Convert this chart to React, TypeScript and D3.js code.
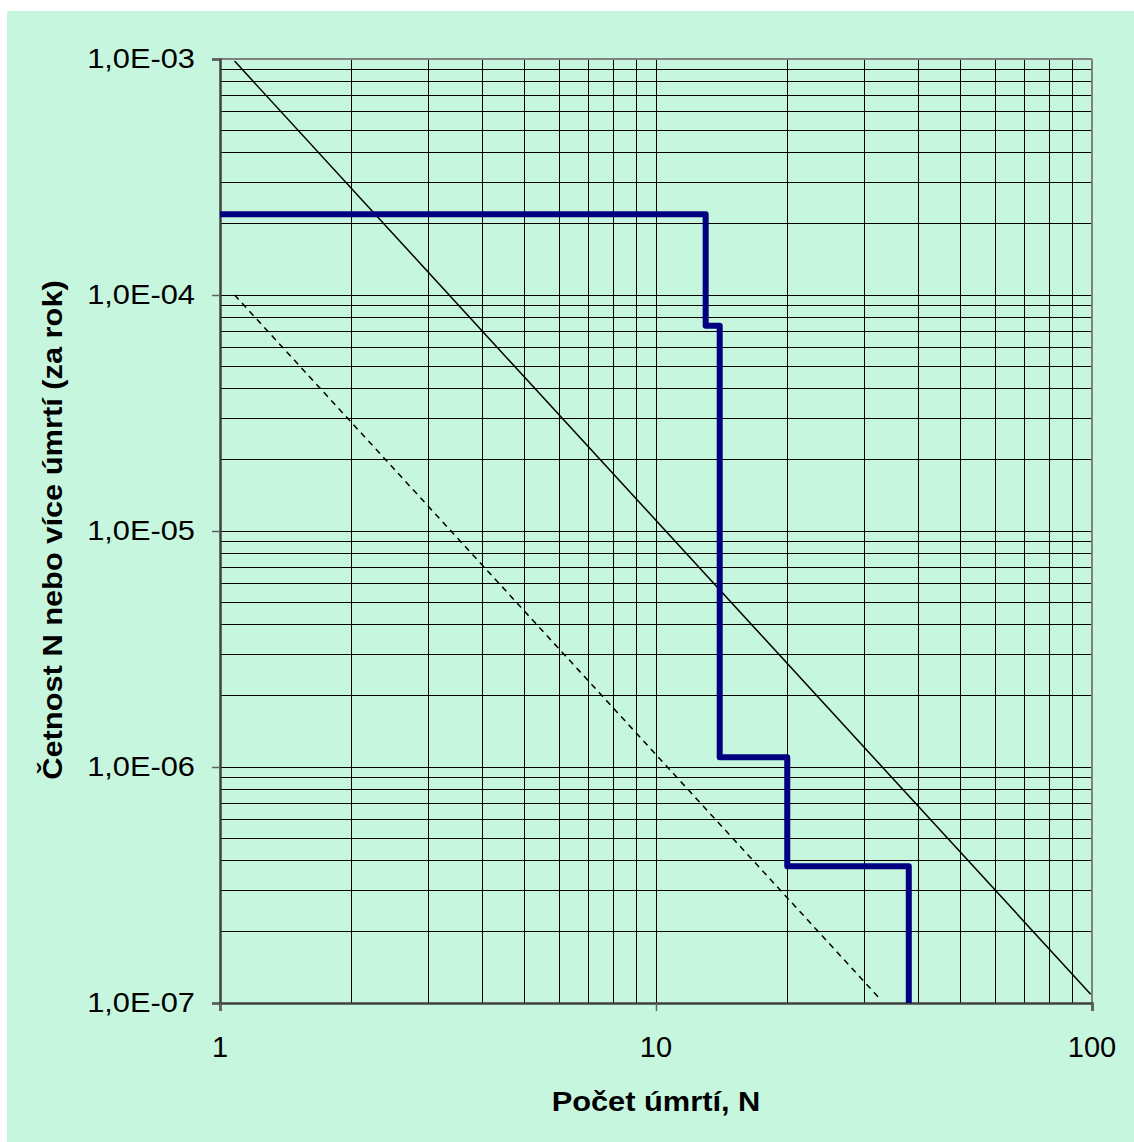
import React, { useRef, useEffect } from "react";
import * as d3 from "d3";

// step curve of the F-N diagram (N = number of deaths, F = frequency per year)
const stepN = [1, 13, 14, 20, 38];
const stepF = [2.2e-4, 7.4e-5, 1.1e-6, 3.8e-7, 1.0e-7];

// upper (solid) and lower (dashed) criterion lines
const solidN = [1.08, 99.3];
const solidF = [9.8e-4, 1.09e-7];
const dashedN = [1.08, 32.5];
const dashedF = [1.0e-4, 1.05e-7];

const xTicks = [1, 10, 100];
const xTickLabels = ["1", "10", "100"];
const yTicks = [1e-3, 1e-4, 1e-5, 1e-6, 1e-7];
const yTickLabels = ["1,0E-03", "1,0E-04", "1,0E-05", "1,0E-06", "1,0E-07"];

const xTitle = "Počet úmrtí, N";
const yTitle = "Četnost N nebo více úmrtí (za rok)";

const W = 1134;
const H = 1142;
const FONT = "'Liberation Sans', Arial, sans-serif";

const App = () => {
  const ref = useRef(null);

  useEffect(() => {
    const svg = d3.select(ref.current);
    svg.selectAll("*").remove();

    // plot area
    const left = 220, right = 1092, top = 59, bottom = 1003;

    const x = d3.scaleLog().domain([1, 100]).range([left, right]);
    const y = d3.scaleLog().domain([1e-7, 1e-3]).range([bottom, top]);

    // background
    svg.append("rect")
      .attr("x", 7).attr("y", 11)
      .attr("width", W - 7).attr("height", H - 11)
      .attr("fill", "#c7f6df");

    // minor + major gridlines
    const xGrid = [];
    for (let d = 1; d < 100; d *= 10) {
      for (let k = 1; k <= 9; k++) xGrid.push(d * k);
    }
    const yGrid = [];
    for (let d = 1e-7; d < 1e-3 * 0.99; d *= 10) {
      for (let k = 1; k <= 9; k++) yGrid.push(d * k);
    }

    const grid = svg.append("g").attr("stroke", "#000").attr("stroke-width", 1).attr("shape-rendering", "crispEdges");
    grid.selectAll(".vx")
      .data(xGrid.filter(v => v > 1 && v < 100))
      .join("line")
      .attr("x1", d => x(d)).attr("x2", d => x(d))
      .attr("y1", top).attr("y2", bottom);
    grid.selectAll(".hy")
      .data(yGrid.filter(v => v > 1e-7 * 1.01 && v < 1e-3 * 0.99))
      .join("line")
      .attr("y1", d => y(d)).attr("y2", d => y(d))
      .attr("x1", left).attr("x2", right);

    // plot border (top / right) and axes (left / bottom)
    svg.append("line").attr("x1", left).attr("x2", right).attr("y1", top).attr("y2", top)
      .attr("stroke", "#808080").attr("stroke-width", 2);
    svg.append("line").attr("x1", right).attr("x2", right).attr("y1", top).attr("y2", bottom)
      .attr("stroke", "#808080").attr("stroke-width", 2);

    const yAxis = d3.axisLeft(y).tickValues(yTicks).tickSize(8).tickFormat(() => "");
    const yg = svg.append("g").attr("transform", `translate(${left},0)`).call(yAxis);
    yg.select(".domain").attr("stroke", "#404040").attr("stroke-width", 2.5);
    yg.selectAll(".tick line").attr("stroke", "#606060").attr("stroke-width", 1.5);

    const xAxis = d3.axisBottom(x).tickValues(xTicks).tickSize(8).tickFormat(() => "");
    const xg = svg.append("g").attr("transform", `translate(0,${bottom})`).call(xAxis);
    xg.select(".domain").attr("stroke", "#404040").attr("stroke-width", 2.5);
    xg.selectAll(".tick line").attr("stroke", "#606060").attr("stroke-width", 1.5);

    // tick labels
    svg.selectAll(".ylab")
      .data(yTicks)
      .join("text")
      .attr("transform", d => `translate(195,${y(d) + 9}) scale(1.1,1)`)
      .attr("text-anchor", "end")
      .attr("font-family", FONT)
      .attr("font-size", 28)
      .attr("fill", "#000")
      .text((d, i) => yTickLabels[i]);

    svg.selectAll(".xlab")
      .data(xTicks)
      .join("text")
      .attr("x", d => x(d))
      .attr("y", 1057)
      .attr("text-anchor", "middle")
      .attr("font-family", FONT)
      .attr("font-size", 29)
      .attr("fill", "#000")
      .text((d, i) => xTickLabels[i]);

    // axis titles
    svg.append("text")
      .attr("transform", `translate(${(left + right) / 2},1111) scale(1.1,1)`)
      .attr("text-anchor", "middle")
      .attr("font-family", FONT)
      .attr("font-weight", "bold")
      .attr("font-size", 28)
      .text(xTitle);

    svg.append("text")
      .attr("transform", `translate(62,530) rotate(-90) scale(1.1,1)`)
      .attr("text-anchor", "middle")
      .attr("font-family", FONT)
      .attr("font-weight", "bold")
      .attr("font-size", 28)
      .text(yTitle);

    const line = d3.line().x(d => x(d[0])).y(d => y(d[1]));

    // criterion lines
    svg.append("path")
      .attr("d", line(d3.zip(solidN, solidF)))
      .attr("fill", "none").attr("stroke", "#000").attr("stroke-width", 1.5);
    svg.append("path")
      .attr("d", line(d3.zip(dashedN, dashedF)))
      .attr("fill", "none").attr("stroke", "#000").attr("stroke-width", 1.5)
      .attr("stroke-dasharray", "6,5");

    // F-N step curve
    const stepLine = d3.line().x(d => x(d[0])).y(d => y(d[1])).curve(d3.curveStepAfter);
    svg.append("path")
      .attr("d", stepLine(d3.zip(stepN, stepF)))
      .attr("fill", "none")
      .attr("stroke", "#000080")
      .attr("stroke-width", 6)
      .attr("stroke-linejoin", "round");
  }, []);

  return (
    <svg
      ref={ref}
      width={W}
      height={H}
      style={{ position: "absolute", left: 0, top: 0, display: "block" }}
    />
  );
};

export default App;
